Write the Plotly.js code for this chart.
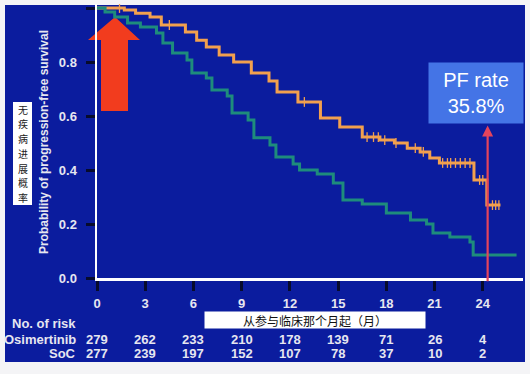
<!DOCTYPE html>
<html><head><meta charset="utf-8">
<script src="https://cdn.plot.ly/plotly-3.0.1.min.js"></script>
<style>html,body{margin:0;padding:0;background:#f4f4f6;}#chart{width:530px;height:374px;}</style>
</head><body><div id="chart"></div>
<script>
// ---- data ----
const months = [0, 3, 6, 9, 12, 15, 18, 21, 24];
const riskOsimertinib = [279, 262, 233, 210, 178, 139, 71, 26, 4];
const riskSoC = [277, 239, 197, 152, 107, 78, 37, 10, 2];
const yTickVals = [0, 0.2, 0.4, 0.6, 0.8, 1.0];
const yTickText = ['0.0', '0.2', '0.4', '0.6', '0.8', ''];

const osiT = [0, 1.7, 2.4, 3.3, 4.0, 5.5, 6.2, 6.8, 7.6, 8.5, 9.6, 10.7, 11.2, 12.5, 13.9, 15.1, 16.5, 17.6, 18.5, 19.3, 20.1, 20.7, 21.3, 23.45, 24.25, 25.1];
const osiS = [1.0, 0.993, 0.981, 0.967, 0.937, 0.911, 0.881, 0.856, 0.826, 0.80, 0.759, 0.73, 0.689, 0.652, 0.593, 0.559, 0.522, 0.511, 0.50, 0.481, 0.467, 0.444, 0.426, 0.363, 0.27, 0.27];
const osiCensor = [1.4, 4.5, 12.9, 16.8, 17.2, 17.5, 17.9, 18.6, 19.8, 20.3, 21.5, 21.8, 22.0, 22.3, 22.6, 22.9, 23.2, 23.8, 24.0, 24.6, 24.8, 25.0];

const socT = [0, 0.5, 1.1, 1.9, 2.7, 3.7, 4.1, 4.7, 5.6, 5.9, 6.8, 7.15, 8.1, 8.4, 9.4, 9.76, 10.76, 11.13, 12.2, 12.6, 13.7, 14.7, 15.3, 16.5, 18.0, 19.5, 20.5, 20.9, 21.95, 23.2, 23.4, 26.1];
const socS = [1.0, 0.985, 0.967, 0.944, 0.93, 0.907, 0.87, 0.833, 0.807, 0.759, 0.741, 0.696, 0.674, 0.611, 0.585, 0.519, 0.493, 0.448, 0.422, 0.40, 0.385, 0.352, 0.289, 0.274, 0.241, 0.215, 0.20, 0.167, 0.152, 0.133, 0.085, 0.085];

const pfRateMonth = 24.3;
const pfRateText = 'PF rate<br>35.8%';
const yLabelCN = '无疾病进展概率';
const xLabelCN = '从参与临床那个月起（月）';
const yTitle = 'Probability of progression-free survival';

// ---- helpers ----
function stepAt(ts, ss, t) { let v = ss[0]; for (let i = 0; i < ts.length; i++) { if (ts[i] <= t) v = ss[i]; } return v; }
const L = 97, R = 7, T = 4, B = 96, W = 530, H = 374;
const PW = W - L - R, PH = H - T - B;
const px = x => (x - L) / PW;           // pixel x -> paper
const py = y => (H - B - y) / PH;        // pixel y -> paper

const textCol = '#e6e6f0';
const bold = {family: 'Liberation Sans, Arial, sans-serif', size: 13, color: textCol, weight: 'bold'};

const traces = [
  {x: osiT, y: osiS, mode: 'lines', line: {shape: 'hv', color: '#f2a04e', width: 3}, hoverinfo: 'skip'},
  {x: osiCensor, y: osiCensor.map(t => stepAt(osiT, osiS, t)), mode: 'markers',
   marker: {symbol: 'line-ns', size: 7, line: {color: '#f2a04e', width: 1.3}}, hoverinfo: 'skip'},
  {x: socT, y: socS, mode: 'lines', line: {shape: 'hv', color: '#1e8c7c', width: 3}, hoverinfo: 'skip'}
];

const arrowPts = [[115,17],[140,40],[128,40],[128,111],[101,111],[101,40],[88,40]];
const arrowPath = 'M' + arrowPts.map(p => px(p[0]).toFixed(4) + ',' + py(p[1]).toFixed(4)).join(' L') + ' Z';

const shapes = [
  {type: 'rect', xref: 'paper', yref: 'paper', x0: px(5), x1: px(525), y0: py(362), y1: py(5),
   fillcolor: '#0b1c9e', line: {width: 0}, layer: 'below'},
  {type: 'path', xref: 'paper', yref: 'paper', path: arrowPath, fillcolor: '#f23c1e', line: {width: 0}, layer: 'below'},
  {type: 'rect', xref: 'paper', yref: 'paper', x0: px(13), x1: px(32), y0: py(205), y1: py(102),
   fillcolor: '#ffffff', line: {width: 0}, layer: 'below'}
];

const C = {xanchor: 'center', yanchor: 'middle', showarrow: false};
const annotations = [
  Object.assign({xref: 'paper', yref: 'paper', x: px(44), y: py(142), text: yTitle, textangle: -90,
   font: {family: 'Liberation Sans, Arial, sans-serif', size: 12, color: textCol, weight: 'bold'}}, C),
  Object.assign({xref: 'paper', yref: 'paper', x: px(476), y: py(93), text: pfRateText,
   font: {family: 'Liberation Sans, Arial, sans-serif', size: 20, color: '#ffffff'}, bgcolor: '#4474e6', width: 94, height: 60, borderpad: 0}, C),
  {xref: 'x', yref: 'y', x: pfRateMonth, y: 0.565, ax: pfRateMonth, ay: -0.018, axref: 'x', ayref: 'y', text: '',
   showarrow: true, arrowhead: 2, arrowsize: 1, arrowwidth: 2.2, arrowcolor: '#e4445c', standoff: 0, startstandoff: 0},
  Object.assign({xref: 'paper', yref: 'paper', x: px(315), y: py(320), text: xLabelCN,
   font: {family: 'Noto Sans CJK SC', size: 12, color: '#111'}, bgcolor: '#ffffff', width: 220, height: 16, borderpad: 0}, C),
  Object.assign({xref: 'paper', yref: 'paper', x: px(78), y: py(323), text: 'No. of risk', font: bold}, C, {xanchor: 'right'}),
  Object.assign({xref: 'paper', yref: 'paper', x: px(78), y: py(339), text: 'Osimertinib', font: bold}, C, {xanchor: 'right'}),
  Object.assign({xref: 'paper', yref: 'paper', x: px(78), y: py(354), text: 'SoC', font: bold}, C, {xanchor: 'right'})
];
// vertical Chinese label: one character per line
yLabelCN.split('').forEach((ch, i) => {
  annotations.push(Object.assign({xref: 'paper', yref: 'paper', x: px(22.5), y: py(109 + i * 14.8), text: ch,
    font: {family: 'Noto Sans CJK SC', size: 10, color: '#222'}}, C));
});
months.forEach((m, i) => {
  annotations.push(Object.assign({xref: 'x', yref: 'paper', x: m, y: py(339), text: String(riskOsimertinib[i]), font: bold}, C));
  annotations.push(Object.assign({xref: 'x', yref: 'paper', x: m, y: py(354), text: String(riskSoC[i]), font: bold}, C));
});

const layout = {
  width: W, height: H, margin: {l: L, r: R, t: T, b: B, pad: 0},
  paper_bgcolor: '#f4f4f6', plot_bgcolor: 'rgba(0,0,0,0)', showlegend: false,
  xaxis: {range: [0, 26.5], tickvals: months, ticktext: months.map(String), ticks: 'outside', ticklen: 10, tickwidth: 3,
    tickcolor: '#070b2c', showline: true, linecolor: '#ffffff', linewidth: 2.5, showgrid: false, zeroline: false,
    tickfont: bold, ticklabelstandoff: 2, fixedrange: true},
  yaxis: {range: [0, PH / 270], tickvals: yTickVals, ticktext: yTickText, ticks: 'outside', ticklen: 9, tickwidth: 3,
    tickcolor: '#070b2c', showline: true, linecolor: '#ffffff', linewidth: 2.5, showgrid: false, zeroline: false,
    tickfont: bold, ticklabelstandoff: 6, fixedrange: true},
  shapes: shapes, annotations: annotations
};
Plotly.newPlot('chart', traces, layout, {displayModeBar: false, staticPlot: true});
</script></body></html>
